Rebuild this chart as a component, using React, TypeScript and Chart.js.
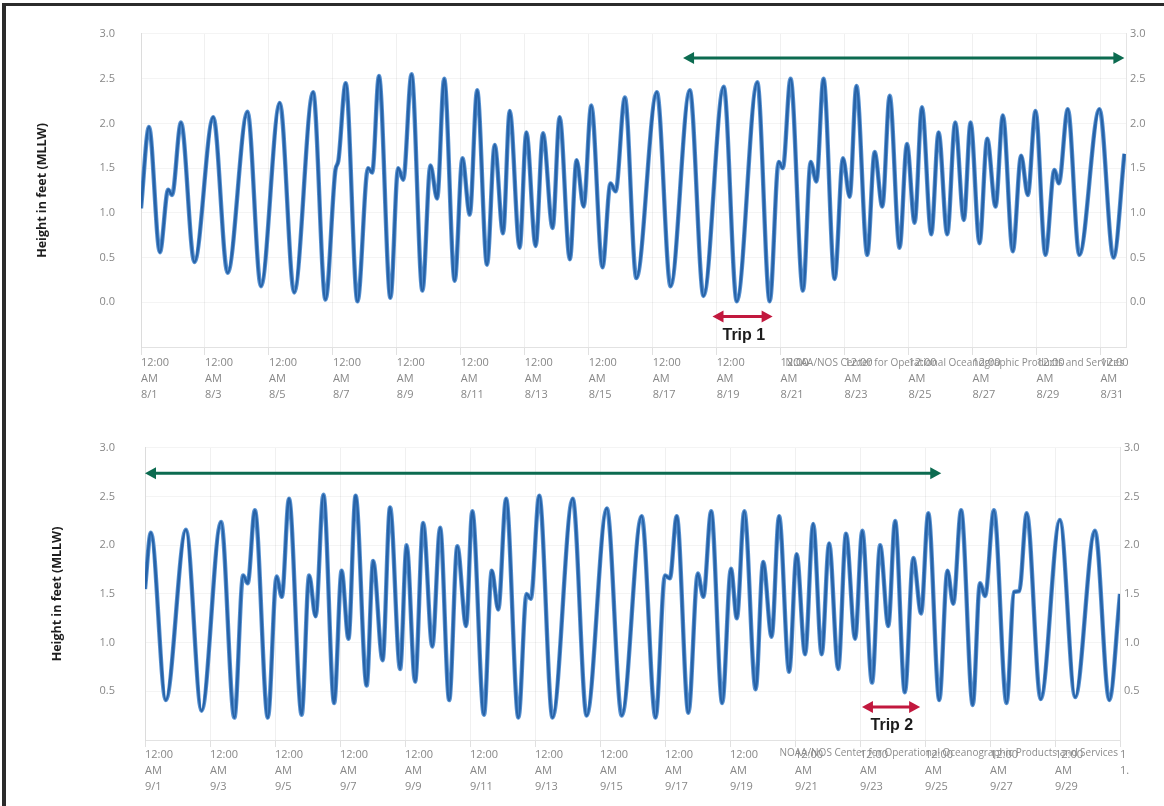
import React, { useEffect, useRef } from "react";
import { Chart, registerables } from "chart.js";
Chart.register(...registerables);

// ---- August (days since 12:00 AM 8/1), height in feet (MLLW) ----
const augDays = [
  0.0, 0.25, 0.59, 0.85, 0.97, 1.25, 1.67, 2.26, 2.71, 3.33, 3.75, 4.34, 4.79, 5.38, 5.77, 6.08, 6.17, 6.4, 6.77,
  7.1, 7.23, 7.44, 7.8, 8.04, 8.2, 8.46, 8.8, 9.05, 9.26, 9.48, 9.81, 10.05, 10.28, 10.51, 10.82, 11.06, 11.32,
  11.53, 11.84, 12.05, 12.34, 12.57, 12.87, 13.09, 13.41, 13.62, 13.84, 14.08, 14.43, 14.68, 14.84, 15.13, 15.49,
  16.13, 16.56, 17.16, 17.59, 18.22, 18.63, 19.27, 19.66, 19.94, 20.07, 20.31, 20.7, 20.94, 21.12, 21.34, 21.69,
  21.95, 22.16, 22.37, 22.71, 22.94, 23.18, 23.41, 23.72, 23.95, 24.19, 24.42, 24.71, 24.94, 25.21, 25.46, 25.73,
  25.94, 26.22, 26.46, 26.72, 26.95, 27.26, 27.52, 27.73, 27.97, 28.28, 28.56, 28.7, 28.98, 29.34, 29.97, 30.41, 30.75,
];
const augHeights = [
  1.05, 1.96, 0.56, 1.26, 1.2, 2.01, 0.45, 2.07, 0.33, 2.13, 0.18, 2.23, 0.11, 2.35, 0.03, 1.48, 1.58, 2.45, 0.01,
  1.5, 1.45, 2.53, 0.05, 1.5, 1.37, 2.55, 0.13, 1.53, 1.16, 2.5, 0.24, 1.61, 0.98, 2.37, 0.42, 1.76, 0.77,
  2.14, 0.61, 1.9, 0.63, 1.89, 0.83, 2.07, 0.48, 1.59, 1.07, 2.2, 0.39, 1.33, 1.24, 2.29, 0.27,
  2.35, 0.18, 2.37, 0.07, 2.41, 0.01, 2.46, 0.01, 1.57, 1.5, 2.5, 0.13, 1.57, 1.35, 2.5, 0.26,
  1.61, 1.18, 2.42, 0.53, 1.68, 1.07, 2.31, 0.61, 1.77, 0.89, 2.18, 0.76, 1.9, 0.76, 2.01, 0.92,
  2.01, 0.66, 1.83, 1.07, 2.09, 0.57, 1.64, 1.2, 2.14, 0.53, 1.48, 1.33, 2.16, 0.53, 2.16, 0.5, 1.66,
];

// ---- September (days since 12:00 AM 9/1) ----
const sepDays = [
  0.0, 0.18, 0.64, 1.26, 1.74, 2.34, 2.75, 3.02, 3.16, 3.38, 3.78, 4.05, 4.21, 4.43, 4.82, 5.05, 5.25, 5.49, 5.82,
  6.05, 6.26, 6.48, 6.82, 7.02, 7.31, 7.54, 7.85, 8.05, 8.31, 8.56, 8.84, 9.08, 9.36, 9.61, 9.88, 10.07, 10.43,
  10.67, 10.87, 11.11, 11.49, 11.74, 11.87, 12.13, 12.54, 13.16, 13.59, 14.21, 14.67, 15.28, 15.71, 16.0, 16.15,
  16.36, 16.72, 17.01, 17.18, 17.42, 17.76, 18.03, 18.21, 18.44, 18.79, 19.02, 19.28, 19.51, 19.82, 20.05, 20.31,
  20.56, 20.82, 21.05, 21.33, 21.57, 21.85, 22.07, 22.37, 22.62, 22.87, 23.08, 23.38, 23.64, 23.88, 24.1, 24.44,
  24.69, 24.87, 25.11, 25.47, 25.69, 25.85, 26.12, 26.51, 26.74, 26.9, 27.13, 27.56, 28.15, 28.62, 29.23, 29.67, 30.0,
];
const sepHeights = [
  1.55, 2.13, 0.41, 2.16, 0.3, 2.24, 0.23, 1.69, 1.61, 2.36, 0.23, 1.68, 1.47, 2.48, 0.26, 1.69, 1.27, 2.52, 0.38,
  1.74, 1.04, 2.51, 0.56, 1.84, 0.82, 2.39, 0.73, 2.0, 0.6, 2.23, 0.96, 2.18, 0.41, 1.99, 1.17, 2.35, 0.26,
  1.74, 1.34, 2.48, 0.23, 1.5, 1.45, 2.51, 0.23, 2.48, 0.25, 2.38, 0.25, 2.3, 0.23, 1.69, 1.66,
  2.3, 0.28, 1.71, 1.47, 2.35, 0.38, 1.76, 1.25, 2.35, 0.52, 1.83, 1.06, 2.3, 0.7, 1.91, 0.88,
  2.22, 0.88, 2.02, 0.73, 2.12, 1.04, 2.15, 0.59, 2.0, 1.17, 2.25, 0.49, 1.87, 1.3, 2.33, 0.41,
  1.74, 1.4, 2.36, 0.36, 1.61, 1.48, 2.36, 0.38, 1.52, 1.53, 2.33, 0.42, 2.26, 0.44, 2.15, 0.41, 1.5,
];

// ---- tick labels ----
const augTickDays = [0, 2, 4, 6, 8, 10, 12, 14, 16, 18, 20, 22, 24, 26, 28, 30];
const sepTickDays = [0, 2, 4, 6, 8, 10, 12, 14, 16, 18, 20, 22, 24, 26, 28, 30];
const augYTicks = [0, 0.5, 1, 1.5, 2, 2.5, 3];
const sepYTicks = [0.5, 1, 1.5, 2, 2.5, 3];
const timeLine1 = "12:00";
const timeLine2 = "AM";
const yTitle = "Height in feet (MLLW)";
const watermark = "NOAA/NOS Center for Operational Oceanographic Products and Services";

// ---- annotations (data coordinates) ----
const GREEN = "#0c6b50";
const RED = "#c2183e";
const augArrows = [
  { x1: 16.95, x2: 30.75, y: 2.73, color: GREEN },
  { x1: 17.87, x2: 19.75, y: -0.16, color: RED },
];
const augTrip = { text: "Trip 1", x: 18.85, y: -0.37 };
const sepArrows = [
  { x1: 0.0, x2: 24.5, y: 2.74, color: GREEN },
  { x1: 22.06, x2: 23.85, y: 0.34, color: RED },
];
const sepTrip = { text: "Trip 2", x: 22.98, y: 0.15 };

type Arrow = { x1: number; x2: number; y: number; color: string };
type Panel = {
  top: number;
  height: number;
  days: number[];
  heights: number[];
  month: number;
  xMax: number;
  yMin: number;
  yMax: number;
  xTicks: number[];
  yTicks: number[];
  padLeft: number;
  padTop: number;
  leftW: number;
  rightW: number;
  xAxisH: number;
  leftTickPad: number;
  tickLen: number;
  arrows: Arrow[];
  trip: { text: string; x: number; y: number };
  wmWidth: number;
  wmDy: number;
};

const TICK_COLOR = "#878787";
const TICK_FONT = { family: "'Open Sans', sans-serif", size: 11, lineHeight: 1.45 };

function TidePanel({ p }: { p: Panel }) {
  const ref = useRef<HTMLCanvasElement | null>(null);
  useEffect(() => {
    if (!ref.current) return;
    const overlay = {
      id: "overlay",
      afterDraw(chart: any) {
        const { ctx, chartArea } = chart;
        const xs = chart.scales.x;
        const ys = chart.scales.y;
        ctx.save();
        p.arrows.forEach((a) => {
          const x1 = xs.getPixelForValue(a.x1);
          const x2 = xs.getPixelForValue(a.x2);
          const py = ys.getPixelForValue(a.y);
          const head = 11;
          const hw = 6;
          ctx.strokeStyle = a.color;
          ctx.fillStyle = a.color;
          ctx.lineWidth = 3;
          ctx.beginPath();
          ctx.moveTo(x1 + head - 2, py);
          ctx.lineTo(x2 - head + 2, py);
          ctx.stroke();
          ctx.beginPath();
          ctx.moveTo(x1, py);
          ctx.lineTo(x1 + head, py - hw);
          ctx.lineTo(x1 + head, py + hw);
          ctx.closePath();
          ctx.fill();
          ctx.beginPath();
          ctx.moveTo(x2, py);
          ctx.lineTo(x2 - head, py - hw);
          ctx.lineTo(x2 - head, py + hw);
          ctx.closePath();
          ctx.fill();
        });
        ctx.fillStyle = "#1c1c1c";
        ctx.font = "bold 16px 'Liberation Sans', Arial, sans-serif";
        ctx.textAlign = "center";
        ctx.textBaseline = "middle";
        ctx.fillText(p.trip.text, xs.getPixelForValue(p.trip.x), ys.getPixelForValue(p.trip.y));
        ctx.fillStyle = "#8c8c8c";
        ctx.font = "10px 'Open Sans', sans-serif";
        ctx.textAlign = "right";
        ctx.textBaseline = "middle";
        ctx.fillText(watermark, chartArea.right - 2, chartArea.bottom + p.wmDy, p.wmWidth);
        ctx.restore();
      },
    };
    const pts = p.days.map((d, i) => ({ x: d, y: p.heights[i] }));
    const chart = new Chart(ref.current, {
      type: "line",
      data: {
        datasets: [
          {
            data: pts,
            borderColor: "#2763a8",
            borderWidth: 2.6,
            pointRadius: 0,
            cubicInterpolationMode: "monotone",
            fill: false,
            order: 1,
          },
          {
            data: pts,
            borderColor: "#5a93d2",
            borderWidth: 4.4,
            pointRadius: 0,
            cubicInterpolationMode: "monotone",
            fill: false,
            order: 2,
          },
        ],
      },
      options: {
        animation: false,
        responsive: false,
        layout: { padding: { left: p.padLeft, top: p.padTop, right: 0, bottom: 0 } },
        plugins: { legend: { display: false }, tooltip: { enabled: false } },
        scales: {
          x: {
            type: "linear",
            min: 0,
            max: p.xMax,
            afterBuildTicks: (s: any) => {
              s.ticks = p.xTicks.map((v) => ({ value: v }));
            },
            afterFit: (s: any) => {
              s.height = p.xAxisH;
            },
            grid: {
              color: "rgba(0,0,0,0.06)",
              drawTicks: true,
              tickLength: p.tickLen,
              tickColor: "rgba(0,0,0,0.12)",
            },
            border: { color: "#e2e2e2" },
            ticks: {
              autoSkip: false,
              maxRotation: 0,
              minRotation: 0,
              align: "start",
              padding: 0,
              color: TICK_COLOR,
              font: TICK_FONT,
              callback: (v: any) => {
                const d = Math.round(Number(v));
                if (p.month === 9 && d === 30) return ["1", "1."];
                return [timeLine1, timeLine2, `${p.month}/${d + 1}`];
              },
            },
          },
          y: {
            type: "linear",
            position: "left",
            min: p.yMin,
            max: p.yMax,
            afterBuildTicks: (s: any) => {
              s.ticks = p.yTicks.map((v) => ({ value: v }));
            },
            afterFit: (s: any) => {
              s.width = p.leftW;
            },
            grid: { color: "rgba(0,0,0,0.045)", drawTicks: false },
            border: { color: "#dcdcdc" },
            title: {
              display: true,
              text: yTitle,
              color: "#1e1e1e",
              padding: 0,
              font: { family: "'Open Sans', sans-serif", size: 12.5, weight: "bold" },
            },
            ticks: {
              padding: p.leftTickPad,
              color: TICK_COLOR,
              font: TICK_FONT,
              callback: (v: any) => Number(v).toFixed(1),
            },
          },
          y2: {
            type: "linear",
            position: "right",
            min: p.yMin,
            max: p.yMax,
            afterBuildTicks: (s: any) => {
              s.ticks = p.yTicks.map((v) => ({ value: v }));
            },
            afterFit: (s: any) => {
              s.width = p.rightW;
            },
            grid: { drawOnChartArea: false, drawTicks: false },
            border: { color: "#e4e4e4" },
            ticks: {
              padding: 4,
              color: TICK_COLOR,
              font: TICK_FONT,
              callback: (v: any) => Number(v).toFixed(1),
            },
          },
        },
      } as any,
      plugins: [overlay],
    });
    return () => chart.destroy();
  }, [p]);
  return (
    <canvas
      ref={ref}
      width={1164}
      height={p.height}
      style={{ position: "absolute", left: 0, top: p.top, width: 1164, height: p.height }}
    />
  );
}

const augPanel: Panel = {
  top: 0,
  height: 410,
  days: augDays,
  heights: augHeights,
  month: 8,
  xMax: 30.8,
  yMin: -0.5,
  yMax: 3.0,
  xTicks: augTickDays.slice(0, 16),
  yTicks: augYTicks,
  padLeft: 35,
  padTop: 33,
  leftW: 106,
  rightW: 38,
  xAxisH: 63,
  leftTickPad: 26,
  tickLen: 8,
  arrows: augArrows,
  trip: augTrip,
  wmWidth: 366,
  wmDy: 16,
};

const sepPanel: Panel = {
  top: 410,
  height: 396,
  days: sepDays,
  heights: sepHeights,
  month: 9,
  xMax: 30.0,
  yMin: 0,
  yMax: 3.0,
  xTicks: sepTickDays,
  yTicks: sepYTicks,
  padLeft: 50,
  padTop: 23,
  leftW: 95,
  rightW: 44,
  xAxisH: 66,
  leftTickPad: 30,
  tickLen: 7,
  arrows: sepArrows,
  trip: sepTrip,
  wmWidth: 357,
  wmDy: 13,
};

export default function App() {
  return (
    <div
      style={{
        position: "fixed",
        left: 0,
        top: 0,
        width: 1164,
        height: 806,
        background: "#ffffff",
        overflow: "hidden",
      }}
    >
      <TidePanel p={augPanel} />
      <TidePanel p={sepPanel} />
      <div style={{ position: "absolute", left: 2, top: 3, width: 1162, height: 3, background: "#2b2b2b" }} />
      <div style={{ position: "absolute", left: 2, top: 3, width: 4, height: 803, background: "#2b2b2b" }} />
    </div>
  );
}
